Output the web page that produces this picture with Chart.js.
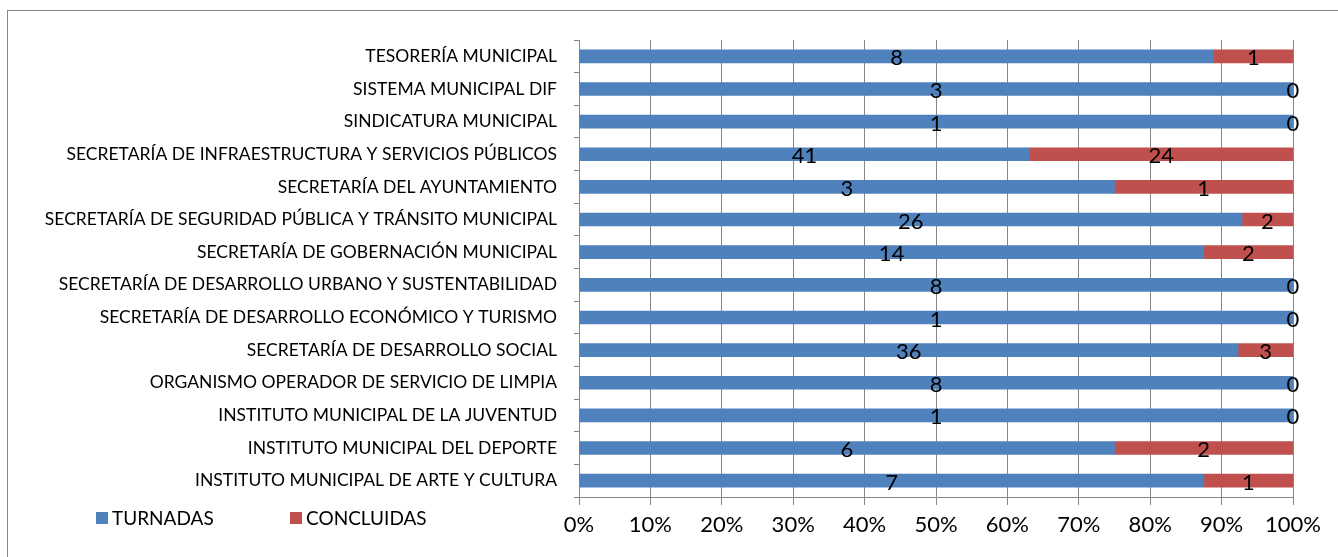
<!DOCTYPE html>
<html>
<head>
<meta charset="utf-8">
<script src="https://cdn.jsdelivr.net/npm/chart.js@4"></script>
<style>
html, body { margin: 0; padding: 0; background: #fff; }
#wrap { width: 1338px; height: 557px; }
</style>
</head>
<body>
<div id="wrap"><canvas id="chart" width="1338" height="557"></canvas></div>
<script>
const categories = [
    'TESORERÍA MUNICIPAL',
    'SISTEMA MUNICIPAL DIF',
    'SINDICATURA MUNICIPAL',
    'SECRETARÍA DE INFRAESTRUCTURA Y SERVICIOS PÚBLICOS',
    'SECRETARÍA DEL AYUNTAMIENTO',
    'SECRETARÍA DE SEGURIDAD PÚBLICA Y TRÁNSITO MUNICIPAL',
    'SECRETARÍA DE GOBERNACIÓN MUNICIPAL',
    'SECRETARÍA DE DESARROLLO URBANO Y SUSTENTABILIDAD',
    'SECRETARÍA DE DESARROLLO ECONÓMICO Y TURISMO',
    'SECRETARÍA DE DESARROLLO SOCIAL',
    'ORGANISMO OPERADOR DE SERVICIO DE LIMPIA',
    'INSTITUTO MUNICIPAL DE LA JUVENTUD',
    'INSTITUTO MUNICIPAL DEL DEPORTE',
    'INSTITUTO MUNICIPAL DE ARTE Y CULTURA'
];
const turnadas   = [8, 3, 1, 41, 3, 26, 14, 8, 1, 36, 8, 1, 6, 7];
const concluidas = [1, 0, 0, 24, 1, 2, 2, 0, 0, 3, 0, 0, 2, 1];
const tickLabels = ['0%', '10%', '20%', '30%', '40%', '50%', '60%', '70%', '80%', '90%', '100%'];

// 100% stacked: turn counts into shares of each row
const pctTurnadas = turnadas.map((t, i) => t / (t + concluidas[i]) * 100);
const pctConcluidas = concluidas.map((c, i) => c / (turnadas[i] + c) * 100);

const gridColor = '#868686';
const fontFamily = 'Lato, "Liberation Sans", sans-serif';

// frame round the chart
const framePlugin = {
    id: 'frame',
    beforeDraw(chart) {
        const ctx = chart.ctx;
        ctx.save();
        ctx.fillStyle = '#fff';
        ctx.fillRect(0, 0, chart.width, chart.height);
        ctx.strokeStyle = gridColor;
        ctx.lineWidth = 1;
        ctx.strokeRect(7.5, 10.5, 1400, 700);
        ctx.restore();
    }
};

// counts written in the middle of each segment
const countLabels = {
    id: 'countLabels',
    afterDatasetsDraw(chart) {
        const ctx = chart.ctx;
        const counts = [turnadas, concluidas];
        ctx.save();
        ctx.font = '22px ' + fontFamily;
        ctx.fillStyle = '#000';
        ctx.textAlign = 'center';
        ctx.textBaseline = 'middle';
        chart.data.datasets.forEach((ds, i) => {
            chart.getDatasetMeta(i).data.forEach((bar, j) => {
                ctx.fillText(counts[i][j], (bar.x + bar.base) / 2, bar.y + 2);
            });
        });
        ctx.restore();
    }
};

// legend sits on the same row as the x tick labels, bottom left
const bottomLegend = {
    id: 'bottomLegend',
    afterDraw(chart) {
        const ctx = chart.ctx;
        const xs = [96, 290];
        ctx.save();
        ctx.font = '19px ' + fontFamily;
        ctx.textBaseline = 'middle';
        chart.data.datasets.forEach((ds, i) => {
            ctx.fillStyle = ds.backgroundColor;
            ctx.fillRect(xs[i], 512, 12, 12);
            ctx.fillStyle = '#000';
            ctx.fillText(ds.label, xs[i] + 16, 519);
        });
        ctx.restore();
    }
};

new Chart(document.getElementById('chart'), {
    type: 'bar',
    data: {
        labels: categories,
        datasets: [
            { label: 'TURNADAS', data: pctTurnadas, backgroundColor: '#4F81BD', barThickness: 13 },
            { label: 'CONCLUIDAS', data: pctConcluidas, backgroundColor: '#C0504D', barThickness: 13 }
        ]
    },
    options: {
        indexAxis: 'y',
        responsive: false,
        devicePixelRatio: 1,
        animation: false,
        layout: { padding: { top: 40, right: 45, left: 0, bottom: 0 } },
        plugins: {
            legend: { display: false },
            tooltip: { enabled: false }
        },
        scales: {
            x: {
                stacked: true,
                min: 0,
                max: 100,
                ticks: {
                    stepSize: 10,
                    color: '#000',
                    font: { family: fontFamily, size: 22 },
                    padding: 7,
                    callback: (v, i) => tickLabels[i]
                },
                grid: { color: gridColor, tickLength: 8 },
                border: { color: gridColor },
                afterFit: s => { s.height = 60; }
            },
            y: {
                stacked: true,
                ticks: {
                    color: '#000',
                    font: { family: fontFamily, size: 17.5 },
                    padding: 17
                },
                grid: { drawOnChartArea: false, color: gridColor, tickLength: 5, offset: true },
                border: { color: gridColor },
                afterFit: s => { s.width = 579; }
            }
        }
    },
    plugins: [framePlugin, countLabels, bottomLegend]
});
</script>
</body>
</html>
